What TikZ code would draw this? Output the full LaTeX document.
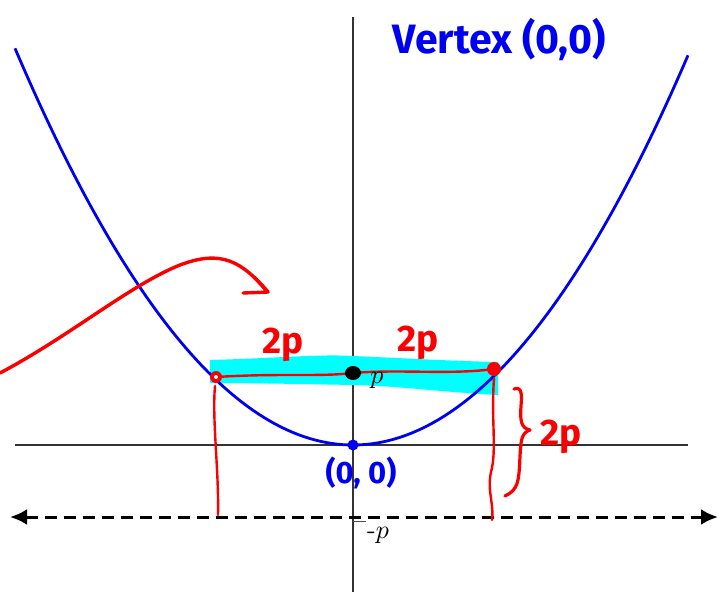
\documentclass[tikz,border=0pt]{standalone}
\usepackage{fontspec}
\usepackage{graphicx}
\newfontfamily\hand{Fira Sans}
\usetikzlibrary{arrows.meta}
\definecolor{aqua}{RGB}{0,255,255}
\definecolor{pblue}{RGB}{0,0,240}
\definecolor{pred}{RGB}{250,0,0}
\begin{document}
\begin{tikzpicture}[x=1pt,y=-1pt,
  axis/.style={draw=black!80, line width=1.4pt},
  parab/.style={draw=pblue, line width=2.8pt},
  redpen/.style={draw=pred, line width=3.2pt, line cap=round, line join=round},
  thinred/.style={draw=pred, line width=2.4pt, line cap=round},
  bluetext/.style={text=pblue},
  redtext/.style={text=pred, font=\hand\bfseries\fontsize{37}{37}\selectfont},
  dirline/.style={draw=black, line width=3pt, dash pattern=on 12pt off 7pt}
]
\useasboundingbox (0,0) rectangle (724,592);
% axes
\coordinate (ytop) at (353,17);
\coordinate (ybot) at (353,592);
\coordinate (xl) at (15,445);
\coordinate (xr) at (688,445);
\draw[axis] (ytop) -- (ybot);
\draw[axis] (xl) -- (xr);
% cyan band
\fill[aqua] (210,360) .. controls (280,358) and (320,354) .. (353,356)
  .. controls (400,358) and (450,361) .. (498,362) -- (498,395)
  .. controls (440,392) and (400,386) .. (353,385)
  .. controls (300,384) and (250,383) .. (210,383) -- cycle;
% parabola
\draw[parab, domain=15:688, samples=120] plot (\x, {445-((\x-353)/12)^2/2});
% directrix
\coordinate (dl) at (10,517);
\coordinate (dr) at (718,517);
\draw[dirline, {Latex[length=17pt,width=16pt]}-{Latex[length=17pt,width=16pt]}] (dl) -- (dr);
\draw[black!70, line width=1pt] (353,521) -- (366,521);
% latus rectum line
\coordinate (L) at (216,377);
\coordinate (R) at (494,369);
\coordinate (F) at (353,373);
\coordinate (V) at (353,445);
\draw[thinred] (L) .. controls (280,373) and (320,377) .. (F)
  .. controls (400,369) and (450,375) .. (R);
% vertical red wavy lines
\draw[thinred] (215,386) .. controls (212,420) and (219,470) .. (218,515);
\draw[thinred] (494,378) .. controls (491,420) and (497,450) .. (491,472)
  .. controls (487,492) and (494,502) .. (492,520);
% brace
\draw[redpen] (514,389) .. controls (522,386) and (522,395) .. (521,406)
  .. controls (520,421) and (521,428) .. (530,430)
  .. controls (521,433) and (521,441) .. (520,456)
  .. controls (519,482) and (518,490) .. (505,496);
% big curved arrow
\coordinate (as) at (0,373);
\coordinate (ae) at (268,292);
\draw[redpen, line width=3.4pt] (as) .. controls (70,336) and (130,285) .. (180,265)
  .. controls (222,249) and (242,262) .. (ae);
\draw[redpen, line width=3.4pt] (254,277) -- (ae) -- (243,293);
% dots
\fill[black] (F) ellipse (8 and 7);
\fill[pblue] (V) circle (5.5);
\fill[pred] (L) circle (6);
\fill[white] (L) circle (2);
\fill[pred] (R) circle (7);
% labels
\node[bluetext, font=\hand\bfseries\fontsize{41}{41}\selectfont] (vt) at (499,40) {Vertex (0,0)};
\node[bluetext, font=\hand\bfseries\fontsize{31}{31}\selectfont] (vo) at (361,473) {(0, 0)};
\node[redtext] (t1) at (283,345) {2p};
\node[redtext] (t2) at (418,343) {2p};
\node[redtext] (t3) at (561,437) {2p};
\node (pl) at (377,380) {\scalebox{2.6}{$p$}};
\node (ml) at (378,535) {\scalebox{2.6}{-$p$}};
\end{tikzpicture}
\end{document}
